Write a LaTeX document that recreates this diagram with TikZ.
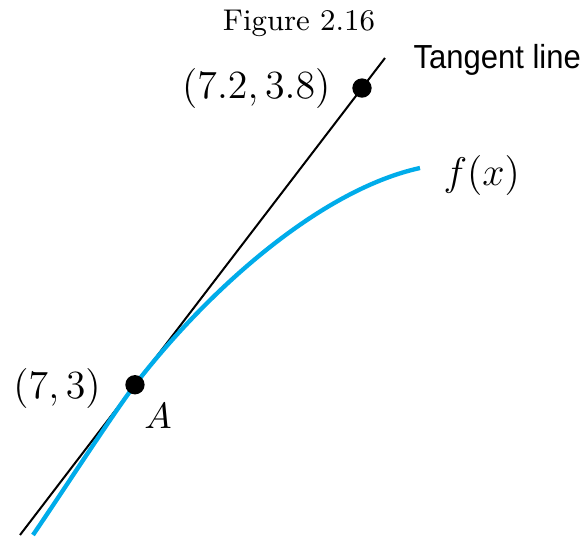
\documentclass[tikz,border=0pt]{standalone}
\usepackage{fontspec}
\newfontfamily\tanfont[FakeStretch=0.93]{Liberation Sans}
\usepackage{tikz}
\usetikzlibrary{positioning, calc}
\definecolor{curveblue}{RGB}{0, 172, 234}

\tikzset{
  dot/.style={circle, fill=black, inner sep=0pt, minimum size=5.8pt},
  lab/.style={inner sep=0pt, font=\fontsize{12}{15}\selectfont},
}

\begin{document}
\begin{tikzpicture}[x=0.3pt, y=-0.3pt]
\useasboundingbox (0,0) rectangle (585,538);

\node[anchor=base, inner sep=0pt, font=\fontsize{9}{11}\selectfont] (title) at (299,30) {Figure 2.16};

\coordinate (lineStart) at (20,535);
\coordinate (lineEnd) at (385,58);
\coordinate (pointA) at ($(lineStart)!0.315!(lineEnd)$);
\coordinate (pointB) at ($(lineStart)!0.937!(lineEnd)$);
\coordinate (curveStart) at (33,535);
\coordinate (curveEnd) at (420,168);

\draw[line width=0.6pt] (lineStart) -- (lineEnd);
\draw[curveblue, line width=1.3pt] (curveStart) .. controls (63,491) and (113.7,412.8) .. (pointA)
  .. controls (208,290) and (320,190) .. (curveEnd);

\node[dot] (A) at (pointA) {};
\node[dot] (B) at (pointB) {};

\node[lab, left=6.2pt of B, font=\fontsize{12.7}{15}\selectfont] (Blab) {$(7.2, 3.8)$};
\node[lab, left=7pt of A, yshift=-1.2pt, font=\fontsize{11.8}{14}\selectfont] (Alab) {$(7,3)$};
\node[lab, below right=3.4pt and 0.4pt of A, font=\fontsize{10.5}{13}\selectfont] (Aname) {$A$};
\node[lab, anchor=west] (flab) at (443,175) {$f(x)$};
\node[anchor=base west, inner sep=0pt, font=\tanfont\fontsize{10}{12}\selectfont] (tanlab) at (413,68) {Tangent line};
\end{tikzpicture}
\end{document}
